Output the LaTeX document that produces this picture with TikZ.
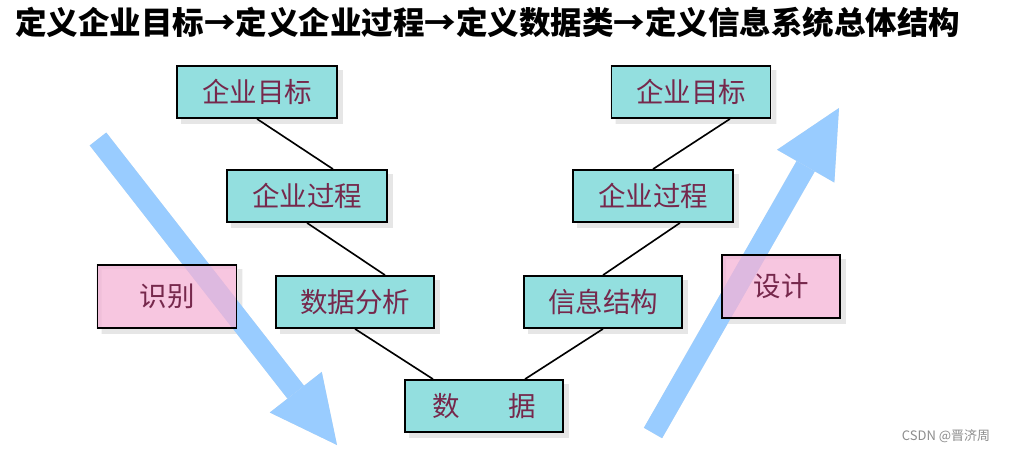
\documentclass[tikz,border=0pt]{standalone}
\usepackage{fontspec}
\newfontfamily\cjk{Noto Sans CJK SC}
\usetikzlibrary{arrows.meta, calc}
\pgfdeclarelayer{back}
\pgfdeclarelayer{mid}
\pgfsetlayers{back,mid,main}

\definecolor{stagecyan}{RGB}{147,223,223}
\definecolor{phasepink}{RGB}{244,179,214}
\definecolor{flowblue}{RGB}{153,204,255}
\definecolor{labeltext}{RGB}{118,40,76}
\definecolor{shadowgray}{RGB}{230,230,230}

\tikzset{
	stage/.style={draw, line width=1.8pt, fill=stagecyan, minimum width=158pt, minimum height=52pt, inner sep=0pt, text=labeltext, font=\cjk\fontsize{27.5}{27.5}\selectfont},
	phase/.style={stage, fill=phasepink, fill opacity=0.75, text opacity=1, minimum height=63pt},
	link/.style={line width=1.6pt},
	linkshadow/.style={line width=1.8pt, shadowgray},
	flow/.style={line width=21pt, flowblue, -{Triangle[width=66pt,length=67pt,line width=0pt]}},
	flowshadow/.style={flow, shadowgray}
}

\begin{document}
\begin{tikzpicture}[x=1pt, y=-1pt]
	\useasboundingbox (0,0) rectangle (1010,452);
	\node[anchor=west, inner sep=0pt, font=\cjk\bfseries\fontsize{31.5}{31.5}\selectfont] (title) at (15,22) {定义企业目标→定义企业过程→定义数据类→定义信息系统总体结构};

	% boxes of the V
	\node[stage, minimum width=160pt] (goalL) at (257,92) {企业目标};
	\node[stage, minimum width=160pt] (procL) at (307,196) {企业过程};
	\node[stage] (anaL) at (355,302) {数据分析};
	\node[stage] (data) at (484,406) {数\hspace{49pt}据};
	\node[stage] (infoR) at (603,302) {信息结构};
	\node[stage, minimum width=160pt] (procR) at (653,196) {企业过程};
	\node[stage, minimum width=159pt] (goalR) at (691,92) {企业目标};
	\node[phase, minimum width=139pt] (ident) at (167,296.5) {识别};
	\node[phase, minimum width=118pt] (design) at (781,286.5) {设计};

	% big arrows
	\coordinate (downtail) at (98,139);
	\coordinate (downtip) at (337,445);
	\coordinate (uptail) at (653,433);
	\coordinate (uptip) at (839,108);
	\begin{pgfonlayer}{mid}
		\draw[flowshadow, shift={(5,4)}] (downtail) -- (downtip);
		\draw[flowshadow, shift={(5,4)}] (uptail) -- (uptip);
		\draw[flow] (downtail) -- (downtip);
		\draw[flow] (uptail) -- (uptip);
	\end{pgfonlayer}

	% links
	\draw[link] (goalL.south) -- ([xshift=26pt]procL.north);
	\draw[link] (procL.south) -- ([xshift=30pt]anaL.north);
	\draw[link] (anaL.south) -- ([xshift=-51pt]data.north);
	\draw[link] ([xshift=41pt]data.north) -- (infoR.south);
	\draw[link] (infoR.north) -- ([xshift=27pt]procR.south);
	\draw[link] (procR.north) -- ([xshift=39pt]goalR.south);

	% shadows
	\begin{pgfonlayer}{back}
		\foreach \n in {goalL,procL,anaL,data,infoR,procR,goalR,ident,design}
			\fill[shadowgray, even odd rule] ([shift={(5pt,-5pt)}]\n.south west) rectangle ([shift={(5pt,-5pt)}]\n.north east)
				(\n.south west) rectangle (\n.north east);
		\draw[linkshadow, shift={(6,4)}] (goalL.south) -- ([xshift=26pt]procL.north);
		\draw[linkshadow, shift={(6,4)}] (procL.south) -- ([xshift=30pt]anaL.north);
		\draw[linkshadow, shift={(6,4)}] (anaL.south) -- ([xshift=-51pt]data.north);
		\draw[linkshadow, shift={(6,4)}] ([xshift=41pt]data.north) -- (infoR.south);
		\draw[linkshadow, shift={(6,4)}] (infoR.north) -- ([xshift=27pt]procR.south);
		\draw[linkshadow, shift={(6,4)}] (procR.north) -- ([xshift=39pt]goalR.south);
	\end{pgfonlayer}

	\node[text=black!45, font=\cjk\fontsize{13}{13}\selectfont] (mark) at (946,436) {CSDN @晋济周};
\end{tikzpicture}
\end{document}
